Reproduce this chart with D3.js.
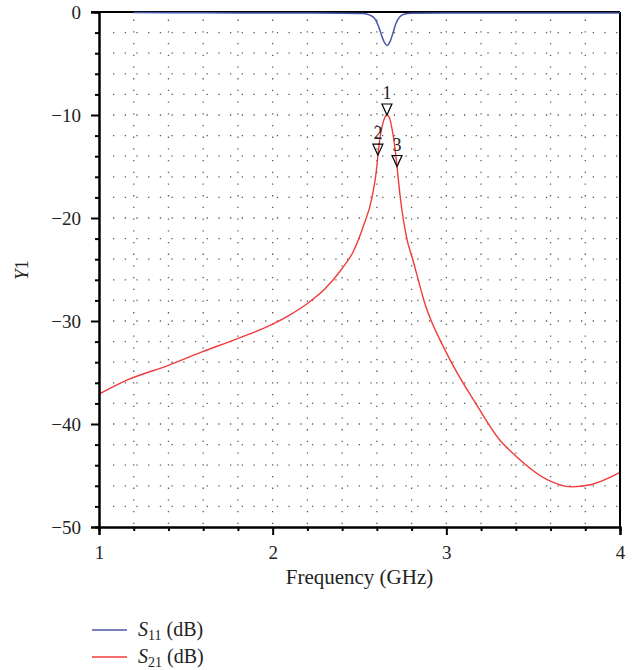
<!DOCTYPE html>
<html>
<head>
<meta charset="utf-8">
<script src="https://cdn.jsdelivr.net/npm/d3@7"></script>
<style>
  body { margin: 0; background: #fff; }
  svg { display: block; }
</style>
</head>
<body>
<div id="chart"></div>
<script>
// S11 (dB)
const s11Freq = [1.2, 1.6, 2.0, 2.4, 2.52, 2.56, 2.59, 2.61, 2.63, 2.645, 2.66, 2.675, 2.69, 2.71, 2.73, 2.76, 2.8, 3.0, 3.5, 4.0];
const s11Vals = [-0.05, -0.08, -0.1, -0.12, -0.15, -0.3, -0.7, -1.4, -2.4, -3.0, -3.25, -2.9, -2.2, -1.1, -0.5, -0.2, -0.12, -0.1, -0.1, -0.1];

// S21 (dB)
const s21Freq = [1.0, 1.167, 1.4, 1.593, 1.783, 2.0, 2.1, 2.2, 2.3, 2.4, 2.46, 2.52, 2.572, 2.6, 2.606, 2.62, 2.64, 2.658, 2.675, 2.69, 2.705, 2.716, 2.73, 2.744, 2.77, 2.808, 2.88, 2.992, 3.18, 3.31, 3.38, 3.58, 3.72, 3.83, 4.0];
const s21Vals = [-37.1, -35.7, -34.3, -33.0, -31.8, -30.3, -29.4, -28.3, -26.9, -24.9, -23.4, -20.9, -18.0, -15.0, -13.9, -12.0, -10.5, -10.0, -10.4, -11.6, -13.3, -15.0, -17.3, -19.2, -21.8, -24.1, -28.5, -32.8, -38.3, -41.6, -42.8, -45.4, -46.1, -45.9, -44.7];

// markers on S21
const markerNames = ["1", "2", "3"];
const markerFreq = [2.658, 2.606, 2.716];
const markerVals = [-10.0, -13.9, -15.0];

const xTicks = [1, 2, 3, 4];
const yTicks = [0, -10, -20, -30, -40, -50];

const fontStack = "'Liberation Serif', 'Times New Roman', 'DejaVu Serif', serif";

(() => {
  const width = 636, height = 670;
  const pl = 99, pr = 620, pt = 12, pb = 527;

  const x = d3.scaleLinear().domain([1, 4]).range([pl, pr]);
  const y = d3.scaleLinear().domain([-50, 0]).range([pb, pt]);

  const svg = d3.select("#chart").append("svg")
    .attr("width", width)
    .attr("height", height)
    .style("font-family", fontStack);

  // dotted grid
  const grid = svg.append("g")
    .attr("stroke", "#5a5a5a")
    .attr("stroke-width", 1.3)
    .attr("stroke-dasharray", "1.3,10.4");

  grid.selectAll(".vg")
    .data(d3.range(1.2, 3.91, 0.2))
    .join("line")
    .attr("x1", d => x(d)).attr("x2", d => x(d))
    .attr("y1", y(-50) - 3).attr("y2", pt + 4);

  grid.selectAll(".hg")
    .data(d3.range(-48, -1, 2))
    .join("line")
    .attr("x1", pl + 14).attr("x2", pr)
    .attr("y1", d => y(d)).attr("y2", d => y(d));

  const line = d3.line()
    .x(d => x(d[0]))
    .y(d => y(d[1]))
    .curve(d3.curveMonotoneX);

  svg.append("path")
    .datum(s21Freq.map((f, i) => [f, s21Vals[i]]))
    .attr("fill", "none")
    .attr("stroke", "#f03c3c")
    .attr("stroke-width", 1.4)
    .attr("d", line);

  // frame
  const frame = svg.append("g").attr("stroke", "#000").attr("stroke-width", 2);
  frame.append("line").attr("x1", pl - 8).attr("x2", pr).attr("y1", pt).attr("y2", pt);
  frame.append("line").attr("x1", pr).attr("x2", pr).attr("y1", pt).attr("y2", pb);

  svg.append("path")
    .datum(s11Freq.map((f, i) => [f, s11Vals[i]]))
    .attr("fill", "none")
    .attr("stroke", "#4756a8")
    .attr("stroke-width", 1.5)
    .attr("d", line);

  // axes
  const yAxis = d3.axisLeft(y)
    .tickValues(yTicks)
    .tickSize(8)
    .tickPadding(10)
    .tickFormat(d => d === 0 ? "0" : "\u2212" + Math.abs(d));

  const yMinor = d3.axisLeft(y)
    .tickValues(d3.range(-48, -1, 2).filter(d => d % 10 !== 0))
    .tickSize(4)
    .tickFormat("");

  const xAxis = d3.axisBottom(x)
    .tickValues(xTicks)
    .tickSize(8)
    .tickPadding(11)
    .tickFormat(d3.format("d"));

  const xMinor = d3.axisBottom(x)
    .tickValues(d3.range(1.2, 3.91, 0.2).filter(d => Math.abs(d - Math.round(d)) > 0.01))
    .tickSize(4)
    .tickFormat("");

  function styleAxis(g) {
    g.attr("font-family", null);
    g.select(".domain").attr("stroke-width", 2);
    g.selectAll(".tick line").attr("stroke-width", 2);
    g.selectAll("text")
      .style("font-family", fontStack)
      .attr("font-size", 19)
      .attr("fill", "#222");
  }

  svg.append("g").attr("transform", `translate(${pl},0)`).call(yMinor).call(styleAxis);
  svg.append("g").attr("transform", `translate(${pl},0)`).call(yAxis).call(styleAxis)
    .call(g => g.selectAll("text").attr("dy", "0.36em"));
  svg.append("g").attr("transform", `translate(0,${pb})`).call(xMinor).call(styleAxis);
  svg.append("g").attr("transform", `translate(0,${pb})`).call(xAxis).call(styleAxis);

  // markers
  const mk = svg.append("g");
  markerNames.forEach((name, i) => {
    const px = x(markerFreq[i]), py = y(markerVals[i]);
    mk.append("path")
      .attr("d", `M${px},${py} L${px - 5},${py - 11} L${px + 5},${py - 11} Z`)
      .attr("fill", "none")
      .attr("stroke", "#000")
      .attr("stroke-width", 1.2);
    mk.append("text")
      .attr("x", px)
      .attr("y", py - 16)
      .attr("text-anchor", "middle")
      .attr("font-size", 18)
      .attr("fill", "#222")
      .text(name);
  });

  // axis titles
  svg.append("text")
    .attr("x", x(2.5))
    .attr("y", 584)
    .attr("text-anchor", "middle")
    .attr("font-size", 21)
    .attr("fill", "#222")
    .text("Frequency (GHz)");

  const yl = svg.append("text")
    .attr("transform", "translate(28,270) rotate(-90)")
    .attr("text-anchor", "middle")
    .attr("font-size", 19)
    .attr("fill", "#222");
  yl.append("tspan").attr("font-style", "italic").text("Y");
  yl.append("tspan").text("1");

  // legend
  const legendNames = ["11", "21"];
  const legendColors = ["#4756a8", "#f03c3c"];
  const legend = svg.append("g");
  legendNames.forEach((sub, i) => {
    const ly = 630 + i * 27;
    legend.append("line")
      .attr("x1", 92).attr("x2", 127)
      .attr("y1", ly).attr("y2", ly)
      .attr("stroke", legendColors[i])
      .attr("stroke-width", 1.5);
    const t = legend.append("text")
      .attr("x", 138)
      .attr("y", ly + 6)
      .attr("font-size", 20)
      .attr("fill", "#222");
    t.append("tspan").attr("font-style", "italic").text("S");
    t.append("tspan").attr("font-size", 14).attr("dy", 4).text(sub);
    t.append("tspan").attr("dy", -4).text(" (dB)");
  });
})();
</script>
</body>
</html>
